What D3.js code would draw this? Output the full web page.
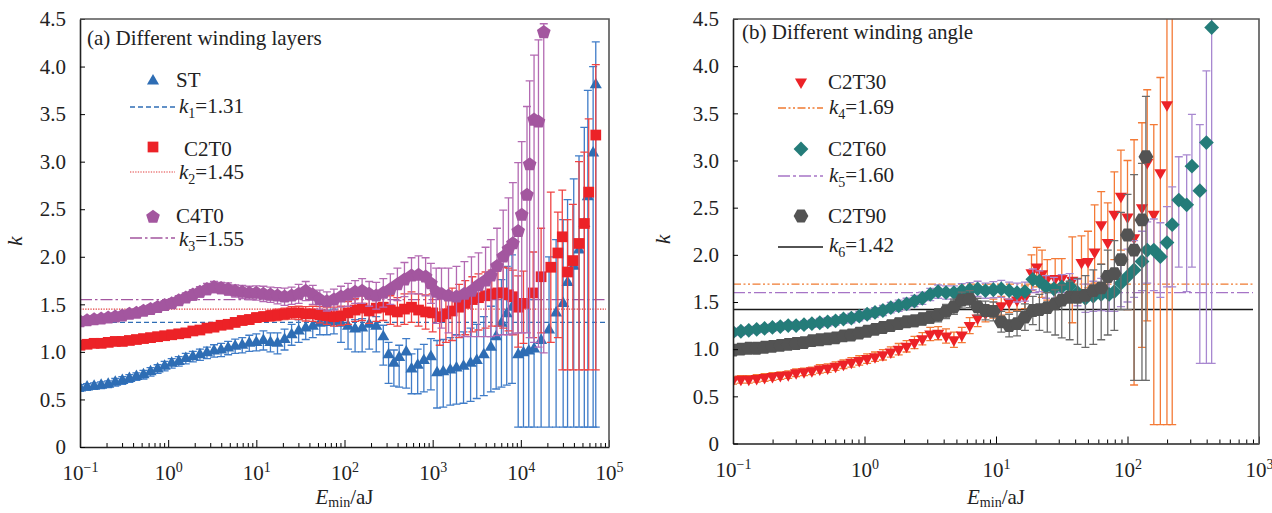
<!DOCTYPE html>
<html>
<head>
<meta charset="utf-8">
<script src="https://d3js.org/d3.v7.min.js"></script>
<style>
    body { margin: 0; background: #fff; }
    svg { font-family: "Liberation Serif", Tinos, "Times New Roman", serif; }
</style>
</head>
<body>
<svg width="1272" height="513"></svg>

<script>
// rows: [log10(Emin/aJ), k, err]  or  [log10(Emin/aJ), k, lower end, upper end]

// ---- panel (a): different winding layers ----
var stRows = [
 [-1.00,0.62,0.035],[-0.92,0.63,0.035],[-0.84,0.64,0.035],[-0.76,0.65,0.035],[-0.68,0.66,0.035],
 [-0.60,0.68,0.04],[-0.52,0.70,0.04],[-0.44,0.72,0.04],[-0.36,0.74,0.04],[-0.28,0.76,0.045],
 [-0.20,0.79,0.045],[-0.12,0.82,0.045],[-0.04,0.85,0.05],[0.04,0.88,0.05],[0.12,0.90,0.05],
 [0.20,0.93,0.055],[0.28,0.95,0.055],[0.36,0.97,0.06],[0.44,0.99,0.06],[0.52,1.01,0.065],
 [0.60,1.02,0.07],[0.68,1.04,0.07],[0.76,1.06,0.075],[0.84,1.07,0.08],[0.92,1.09,0.085],
 [1.00,1.10,0.09],[1.08,1.12,0.1],[1.16,1.10,0.1],[1.24,1.09,0.11],[1.32,1.13,0.11],
 [1.40,1.18,0.11],[1.48,1.22,0.12],[1.56,1.25,0.12],[1.64,1.27,0.12],[1.72,1.30,0.12],
 [1.80,1.31,0.13],[1.88,1.32,0.13],
 [1.96,1.30,1.10,1.41],[2.04,1.27,1.03,1.37],[2.12,1.24,1.00,1.34],[2.20,1.25,1.00,1.35],
 [2.28,1.29,1.03,1.39],[2.36,1.27,1.00,1.37],
 [2.44,1.16,0.86,1.28],[2.50,0.97,0.67,1.10],[2.56,0.88,0.64,1.02],[2.62,0.94,0.63,1.07],
 [2.70,1.00,0.62,1.14],[2.76,0.82,0.56,0.98],[2.83,0.86,0.56,1.03],[2.90,0.91,0.58,1.08],
 [2.98,0.95,0.60,1.14],
 [3.05,0.78,0.41,1.12],[3.12,0.79,0.42,1.13],[3.20,0.81,0.44,1.15],[3.27,0.83,0.45,1.18],
 [3.35,0.85,0.46,1.21],[3.43,0.88,0.48,1.25],[3.50,0.91,0.51,1.29],[3.58,0.97,0.54,1.37],
 [3.66,1.05,0.58,1.48],[3.72,1.16,0.61,1.62],[3.78,1.30,0.63,1.76],[3.84,1.40,0.65,1.90],
 [3.90,1.47,0.67,2.02],
 [3.97,0.97,0.21,1.50],[4.03,0.99,0.21,1.52],[4.09,1.01,0.21,1.55],[4.15,1.03,0.21,1.60],
 [4.23,1.12,0.21,1.78],[4.32,1.23,0.21,2.00],[4.40,1.41,0.21,2.18],[4.48,1.51,0.21,2.39],
 [4.53,1.73,0.21,2.60],[4.60,1.90,0.21,2.82],[4.66,2.07,0.21,3.06],[4.72,2.35,0.21,3.36],
 [4.76,2.63,0.21,3.75],[4.82,3.09,0.21,4.00],[4.85,3.81,0.21,4.26]
];

var c2t0Rows = [
 [-1.00,1.07,0.03],[-0.92,1.08,0.03],[-0.84,1.09,0.03],[-0.76,1.09,0.03],[-0.68,1.10,0.03],
 [-0.60,1.11,0.03],[-0.52,1.11,0.03],[-0.44,1.12,0.03],[-0.36,1.13,0.03],[-0.28,1.14,0.03],
 [-0.20,1.15,0.03],[-0.12,1.16,0.03],[-0.04,1.17,0.03],[0.04,1.18,0.03],[0.12,1.19,0.035],
 [0.20,1.20,0.035],[0.28,1.22,0.035],[0.36,1.23,0.035],[0.44,1.25,0.04],[0.52,1.26,0.04],
 [0.60,1.28,0.04],[0.68,1.29,0.04],[0.76,1.31,0.045],[0.84,1.33,0.045],[0.92,1.34,0.05],
 [1.00,1.36,0.05],[1.08,1.37,0.05],[1.16,1.38,0.055],[1.24,1.39,0.06],[1.32,1.40,0.06],
 [1.40,1.41,0.065],[1.48,1.41,0.07],[1.56,1.40,0.075],[1.64,1.40,0.08],[1.72,1.39,0.085],
 [1.80,1.38,0.09],[1.88,1.37,0.1],[1.96,1.38,0.1],
 [2.04,1.41,0.12],[2.12,1.44,0.12],[2.20,1.46,0.13],[2.28,1.43,0.13],[2.36,1.46,0.14],
 [2.44,1.47,0.14],[2.52,1.44,0.15],[2.60,1.42,0.15],[2.68,1.45,0.16],[2.76,1.47,0.16],
 [2.84,1.44,0.17],[2.92,1.42,0.18],[3.00,1.41,0.2],
 [3.08,1.37,1.07,1.60],[3.15,1.40,1.10,1.63],[3.22,1.43,1.12,1.67],[3.30,1.47,1.15,1.71],
 [3.37,1.51,1.18,1.75],[3.45,1.55,1.21,1.79],[3.52,1.57,1.23,1.82],[3.60,1.59,1.25,1.84],
 [3.67,1.61,1.27,1.86],[3.74,1.62,1.27,1.88],[3.80,1.62,1.25,1.89],[3.86,1.60,1.22,1.88],
 [3.91,1.58,1.18,1.86],
 [3.97,1.47,1.05,1.80],[4.03,1.51,1.09,1.85],[4.14,1.62,1.15,2.05],[4.23,1.79,1.20,2.30],
 [4.34,1.89,1.10,2.68],[4.42,2.04,1.15,2.47],[4.47,2.21,0.81,2.70],[4.53,1.84,0.81,2.39],
 [4.59,1.96,0.81,2.55],[4.66,2.14,0.81,3.00],[4.72,2.35,0.81,3.10],[4.77,2.68,0.81,3.45],
 [4.85,3.28,0.81,4.02]
];

var c4t0Rows = [
 [-1.00,1.32,0.035],[-0.92,1.33,0.035],[-0.84,1.34,0.035],[-0.76,1.35,0.035],[-0.68,1.36,0.04],
 [-0.60,1.37,0.04],[-0.52,1.38,0.04],[-0.44,1.40,0.04],[-0.36,1.41,0.04],[-0.28,1.43,0.045],
 [-0.20,1.45,0.045],[-0.12,1.47,0.045],[-0.04,1.49,0.05],[0.04,1.51,0.05],[0.12,1.54,0.05],
 [0.20,1.57,0.05],[0.28,1.60,0.055],[0.36,1.63,0.055],[0.44,1.66,0.06],[0.52,1.68,0.06],
 [0.60,1.67,0.06],[0.68,1.66,0.065],[0.76,1.64,0.065],[0.84,1.63,0.07],[0.92,1.62,0.07],
 [1.00,1.62,0.075],[1.08,1.61,0.08],[1.16,1.60,0.08],[1.24,1.59,0.085],[1.32,1.58,0.09],
 [1.40,1.59,0.09],[1.48,1.61,0.1],[1.56,1.64,0.1],[1.64,1.60,0.1],[1.72,1.55,0.1],
 [1.80,1.53,0.1],[1.88,1.55,0.11],[1.96,1.58,0.11],[2.04,1.60,0.12],[2.12,1.63,0.12],
 [2.20,1.64,0.13],[2.28,1.61,0.13],[2.36,1.59,0.14],[2.44,1.62,0.15],[2.52,1.66,0.16],
 [2.60,1.71,0.17],[2.68,1.76,0.18],[2.76,1.80,0.19],[2.84,1.81,0.2],[2.92,1.79,0.2],
 [2.98,1.72,0.21],
 [3.04,1.63,1.30,1.88],[3.10,1.61,1.25,1.88],[3.18,1.59,1.20,1.88],[3.27,1.58,1.17,1.90],
 [3.36,1.61,1.16,1.95],[3.44,1.64,1.16,2.00],[3.52,1.70,1.16,2.04],[3.60,1.75,1.16,2.10],
 [3.66,1.80,1.16,2.18],[3.73,1.90,1.17,2.30],[3.80,2.00,1.18,2.49],[3.86,2.08,1.18,2.62],
 [3.91,2.14,1.19,2.78],[3.97,2.27,1.20,2.99],[4.01,2.44,1.20,3.21],[4.07,2.65,1.20,3.58],
 [4.10,2.97,1.15,3.85],[4.15,3.44,1.10,4.12],[4.20,3.42,1.05,4.28],[4.26,4.36,0.99,4.45]
];

// ---- panel (b): different winding angle ----
var c2t30Rows = [
 [-1.00,0.67,0.04],[-0.94,0.68,0.04],[-0.88,0.68,0.04],[-0.82,0.69,0.04],[-0.76,0.70,0.04],
 [-0.70,0.71,0.04],[-0.64,0.72,0.04],[-0.58,0.73,0.04],[-0.52,0.75,0.04],[-0.46,0.76,0.04],
 [-0.40,0.77,0.04],[-0.34,0.79,0.045],[-0.28,0.80,0.045],[-0.22,0.82,0.045],[-0.16,0.84,0.045],
 [-0.10,0.86,0.05],[-0.04,0.88,0.05],[0.02,0.90,0.05],[0.08,0.92,0.05],[0.14,0.94,0.055],
 [0.20,0.97,0.055],[0.26,1.00,0.06],[0.32,1.03,0.06],[0.38,1.07,0.065],[0.44,1.11,0.065],
 [0.50,1.16,0.07],[0.56,1.17,0.07],[0.62,1.14,0.075],[0.68,1.10,0.08],[0.74,1.15,0.08],
 [0.80,1.25,0.085],[0.86,1.33,0.09],[0.92,1.38,0.09],[0.98,1.43,0.1],[1.04,1.46,0.1],
 [1.10,1.50,0.11],[1.16,1.52,0.11],[1.22,1.55,0.12],
 [1.27,1.81,1.62,2.00],[1.31,1.87,1.66,2.08],[1.35,1.80,1.55,2.05],[1.39,1.75,1.52,1.95],
 [1.45,1.75,1.50,1.96],[1.50,1.75,1.48,1.96],[1.58,1.73,1.28,2.19],[1.65,1.92,1.62,2.20],
 [1.70,1.93,1.65,2.25],[1.75,2.03,1.70,2.53],[1.80,2.32,1.90,2.67],[1.85,2.13,1.80,2.55],
 [1.90,2.43,1.95,2.88],[1.95,2.62,2.05,3.11],[2.00,2.40,1.42,3.00],[2.05,2.18,0.62,3.22],
 [2.11,2.50,1.02,3.40],[2.15,2.98,1.30,3.75],[2.20,2.43,0.20,3.38],[2.25,2.87,0.20,3.88],
 [2.30,3.59,0.20,5.00],[2.34,4.70,0.20,5.00]
];

var c2t60Rows = [
 [-1.00,1.18,0.04],[-0.94,1.19,0.04],[-0.88,1.20,0.04],[-0.82,1.21,0.04],[-0.76,1.22,0.04],
 [-0.70,1.23,0.04],[-0.64,1.24,0.04],[-0.58,1.25,0.04],[-0.52,1.25,0.04],[-0.46,1.26,0.04],
 [-0.40,1.27,0.04],[-0.34,1.28,0.045],[-0.28,1.29,0.045],[-0.22,1.30,0.045],[-0.16,1.32,0.045],
 [-0.10,1.33,0.05],[-0.04,1.35,0.05],[0.02,1.37,0.05],[0.08,1.39,0.05],[0.14,1.41,0.055],
 [0.20,1.44,0.055],[0.26,1.46,0.06],[0.32,1.48,0.06],[0.38,1.51,0.06],[0.44,1.54,0.065],
 [0.50,1.58,0.065],[0.56,1.61,0.07],[0.62,1.60,0.07],[0.68,1.60,0.07],[0.74,1.62,0.075],
 [0.80,1.63,0.075],[0.86,1.64,0.08],[0.92,1.62,0.08],[0.98,1.63,0.085],[1.04,1.64,0.09],
 [1.10,1.62,0.09],[1.16,1.60,0.1],[1.22,1.61,0.1],[1.28,1.74,0.11],[1.33,1.72,0.11],
 [1.38,1.66,0.12],[1.44,1.64,0.12],[1.50,1.66,0.13],[1.56,1.67,0.13],[1.62,1.60,0.14],
 [1.68,1.54,0.15],[1.74,1.56,0.16],[1.80,1.58,0.17],[1.86,1.58,0.18],
 [1.90,1.61,1.40,1.85],[1.95,1.70,1.45,1.98],[2.00,1.77,1.50,2.06],[2.05,1.84,1.55,2.15],
 [2.11,1.93,1.62,2.25],[2.15,2.05,1.70,2.35],[2.20,2.05,1.62,2.38],[2.25,1.98,1.55,2.34],
 [2.30,2.13,1.66,2.51],[2.34,2.32,1.66,2.72],[2.39,2.58,1.87,3.04],[2.45,2.53,1.61,3.06],
 [2.49,2.94,1.87,3.49],[2.55,2.68,0.85,3.38],[2.60,3.19,0.85,3.95],[2.64,4.41,0.85,5.00]
];

var c2t90Rows = [
 [-1.00,0.99,0.04],[-0.94,1.00,0.04],[-0.88,1.01,0.04],[-0.82,1.01,0.04],[-0.76,1.02,0.04],
 [-0.70,1.03,0.04],[-0.64,1.04,0.04],[-0.58,1.05,0.04],[-0.52,1.06,0.04],[-0.46,1.07,0.04],
 [-0.40,1.09,0.04],[-0.34,1.10,0.04],[-0.28,1.11,0.045],[-0.22,1.12,0.045],[-0.16,1.14,0.045],
 [-0.10,1.15,0.045],[-0.04,1.17,0.05],[0.02,1.19,0.05],[0.08,1.21,0.05],[0.14,1.23,0.05],
 [0.20,1.25,0.055],[0.26,1.27,0.055],[0.32,1.29,0.06],[0.38,1.30,0.06],[0.44,1.32,0.065],
 [0.50,1.34,0.065],[0.56,1.36,0.07],[0.62,1.40,0.075],[0.68,1.45,0.08],[0.74,1.52,0.085],
 [0.80,1.53,0.09],[0.86,1.45,0.09],[0.92,1.41,0.1],[0.98,1.40,0.1],[1.04,1.29,0.11],
 [1.10,1.25,0.12],[1.16,1.27,0.13],[1.22,1.34,0.14],[1.28,1.41,0.15],
 [1.33,1.42,1.20,1.58],[1.39,1.44,1.18,1.60],[1.45,1.48,1.15,1.63],[1.50,1.52,1.12,1.68],
 [1.56,1.55,1.10,1.72],[1.62,1.55,1.05,1.75],[1.68,1.57,1.02,1.78],[1.74,1.62,1.05,1.84],
 [1.80,1.65,1.10,1.90],[1.85,1.77,1.15,2.05],[1.90,1.80,1.20,2.15],[1.95,1.95,1.42,2.45],
 [2.00,2.21,1.42,2.64],[2.05,2.05,0.67,2.85],[2.11,2.37,0.67,2.97],[2.14,3.04,0.67,3.68]
];

var seriesNamesA = ["ST", "C2T0", "C4T0"];
var fitSubsA = ["1", "2", "3"];
var fitValuesA = [1.31, 1.45, 1.55];
var seriesNamesB = ["C2T30", "C2T60", "C2T90"];
var fitSubsB = ["4", "5", "6"];
var fitValuesB = [1.69, 1.60, 1.42];

var xMajorA = [-1, 0, 1, 2, 3, 4, 5];
var xMajorB = [-1, 0, 1, 2, 3];
var yTicks = [0, 0.5, 1.0, 1.5, 2.0, 2.5, 3.0, 3.5, 4.0, 4.5];
var titleA = "(a) Different winding layers";
var titleB = "(b) Different winding angle";

// ---- drawing ----
var svg = d3.select("svg");
var FONT = '"Liberation Serif", Tinos, "Times New Roman", serif';
svg.attr("font-family", FONT);

function polygon(n, r, rot) {
    var p = [];
    for (var i = 0; i < n; i++) {
        var a = rot + i * 2 * Math.PI / n;
        p.push((r * Math.cos(a)).toFixed(2) + "," + (r * Math.sin(a)).toFixed(2));
    }
    return "M" + p.join("L") + "Z";
}
var shapes = {
    triUp: polygon(3, 7, -Math.PI / 2),
    square: polygon(4, 7.6, Math.PI / 4),
    pentagon: polygon(5, 7.2, -Math.PI / 2),
    triDown: polygon(3, 7, Math.PI / 2),
    diamond: polygon(4, 7.4, 0),
    hexagon: polygon(6, 7.4, 0)
};

var panels = [
    {
        id: "a", left: 80, right: 609, top: 19, bottom: 447, xmax: 5, fitEnd: 606,
        rows: [stRows, c2t0Rows, c4t0Rows], names: seriesNamesA,
        fitSubs: fitSubsA, fitValues: fitValuesA, majors: xMajorA, title: titleA,
        titleX: 87, titleY: 45, ylabX: 22, tickLabY: 33,
        styles: [
            {shape: "triUp", fill: "#2e6db4", bar: "#3f7cc8"},
            {shape: "square", fill: "#ec2227", bar: "#ef4444"},
            {shape: "pentagon", fill: "#a3569f", bar: "#b36ab2"}
        ],
        fits: [
            {color: "#2f6db5", dash: "5,3", w: 1.3},
            {color: "#e23a3a", dash: "1.3,1.3", w: 1.2},
            {color: "#a3569f", dash: "12,3,2.5,3", w: 1.3}
        ],
        legend: {mx: 153, lx1: 130, lx2: 175, nameX: [176, 184, 176], kx: 179,
                 markY: [81, 147, 217], nameY: [87, 156, 223], lineY: [107, 172, 238], kY: [113, 179, 246]}
    },
    {
        id: "b", left: 733, right: 1259, top: 19, bottom: 443.5, xmax: 3, fitEnd: 1253,
        rows: [c2t30Rows, c2t60Rows, c2t90Rows], names: seriesNamesB,
        fitSubs: fitSubsB, fitValues: fitValuesB, majors: xMajorB, title: titleB,
        titleX: 742, titleY: 39, ylabX: 670, tickLabY: 33,
        styles: [
            {shape: "triDown", fill: "#ec2227", bar: "#f47a36"},
            {shape: "diamond", fill: "#247c79", bar: "#a888d0"},
            {shape: "hexagon", fill: "#535353", bar: "#6b6b6b"}
        ],
        fits: [
            {color: "#f07a30", dash: "8,2.5,2,2.5,2,2.5", w: 1.3},
            {color: "#a674c6", dash: "12,3,3,3", w: 1.3},
            {color: "#1a1a1a", dash: null, w: 1.4}
        ],
        legend: {mx: 801, lx1: 778, lx2: 823, nameX: [828, 828, 828], kx: 829,
                 markY: [82, 149, 216], nameY: [89, 156, 223], lineY: [108, 176, 247], kY: [114, 182, 252]}
    }
];

panels.forEach(function (p) {
    var x = d3.scaleLog().domain([0.1, Math.pow(10, p.xmax)]).range([p.left, p.right]),
        y = d3.scaleLinear().domain([0, 4.5]).range([p.bottom, p.top]);
    var g = svg.append("g");

    g.append("clipPath").attr("id", "clip-" + p.id)
        .append("rect")
        .attr("x", p.left).attr("y", p.top)
        .attr("width", p.right - p.left).attr("height", p.bottom - p.top);

    // fitted constant lines
    p.fitValues.forEach(function (v, i) {
        var f = p.fits[i];
        g.append("line")
            .attr("x1", x(0.1)).attr("x2", p.fitEnd)
            .attr("y1", y(v)).attr("y2", y(v))
            .attr("stroke", f.color).attr("stroke-width", f.w)
            .attr("stroke-dasharray", f.dash);
    });

    // series: error bars then markers
    p.rows.forEach(function (rows, si) {
        var st = p.styles[si];
        var data = rows.map(function (r) {
            return {
                x: Math.pow(10, r[0]), k: r[1],
                lo: r.length > 3 ? r[2] : r[1] - r[2],
                hi: r.length > 3 ? r[3] : r[1] + r[2]
            };
        });
        var sg = g.append("g").attr("clip-path", "url(#clip-" + p.id + ")");
        sg.selectAll(".bar").data(data).enter().append("path")
            .attr("class", "bar")
            .attr("fill", "none")
            .attr("stroke", st.bar)
            .attr("stroke-width", 1.3)
            .attr("d", function (d) {
                var cx = x(d.x), a = y(d.hi), b = y(d.lo);
                return "M" + (cx - 4) + "," + a + "H" + (cx + 4) +
                       "M" + cx + "," + a + "V" + b +
                       "M" + (cx - 4) + "," + b + "H" + (cx + 4);
            });
        sg.selectAll(".mark").data(data).enter().append("path")
            .attr("class", "mark")
            .attr("d", shapes[st.shape])
            .attr("fill", st.fill)
            .attr("transform", function (d) {
                return "translate(" + x(d.x) + "," + y(d.k) + ")";
            });
    });

    // x axis: minor then major ticks
    var minor = x.ticks().filter(function (v) {
        return Math.abs(Math.log10(v) - Math.round(Math.log10(v))) > 1e-6;
    });
    g.append("g")
        .attr("transform", "translate(0," + p.bottom + ")")
        .call(d3.axisBottom(x).tickValues(minor).tickSize(-4).tickSizeOuter(0).tickFormat(""))
        .call(function (s) { s.select(".domain").remove(); });
    var xa = g.append("g")
        .attr("transform", "translate(0," + p.bottom + ")")
        .call(d3.axisBottom(x).tickValues(p.majors.map(function (e) { return Math.pow(10, e); }))
            .tickSize(-7).tickSizeOuter(0).tickFormat(""));
    xa.select(".domain").attr("stroke-width", 1.6).attr("stroke", "#222");
    xa.selectAll(".tick text").each(function (d) {
        var e = Math.round(Math.log10(d));
        var t = d3.select(this)
            .attr("y", p.tickLabY).attr("dy", null)
            .attr("font-size", 21).attr("font-family", FONT).attr("fill", "#222");
        t.append("tspan").text("10");
        t.append("tspan").attr("dy", -8).attr("font-size", 14).text(e < 0 ? "\u2212" + (-e) : e);
    });

    // y axis
    var ya = g.append("g")
        .attr("transform", "translate(" + p.left + ",0)")
        .call(d3.axisLeft(y).tickValues(yTicks).tickSize(-5).tickSizeOuter(0).tickPadding(14)
            .tickFormat(function (d) { return d === 0 ? "0" : d3.format(".1f")(d); }));
    ya.select(".domain").attr("stroke-width", 1.6).attr("stroke", "#222");
    ya.selectAll(".tick text").attr("font-size", 21).attr("font-family", FONT).attr("fill", "#222");

    // frame top/right
    g.append("path")
        .attr("d", "M" + p.left + "," + p.top + "H" + p.right + "V" + p.bottom)
        .attr("fill", "none").attr("stroke", "#555").attr("stroke-width", 1.6);

    // labels
    g.append("text")
        .attr("transform", "translate(" + p.ylabX + "," + ((p.top + p.bottom) / 2 + 8) + ") rotate(-90)")
        .attr("text-anchor", "middle").attr("font-style", "italic").attr("font-size", 21)
        .attr("fill", "#222").text("k");
    var xl = g.append("text")
        .attr("x", (p.left + p.right) / 2).attr("y", 504)
        .attr("text-anchor", "middle").attr("font-size", 21).attr("fill", "#222");
    xl.append("tspan").attr("font-style", "italic").text("E");
    xl.append("tspan").attr("font-size", 14).attr("dy", 3).text("min");
    xl.append("tspan").attr("dy", -3).text("/aJ");

    g.append("text")
        .attr("x", p.titleX).attr("y", p.titleY)
        .attr("font-size", 21).attr("fill", "#222").text(p.title);

    // legend
    var L = p.legend;
    p.names.forEach(function (name, i) {
        var st = p.styles[i], f = p.fits[i];
        g.append("path").attr("d", shapes[st.shape]).attr("fill", st.fill)
            .attr("transform", "translate(" + L.mx + "," + L.markY[i] + ")");
        g.append("text").attr("x", L.nameX[i]).attr("y", L.nameY[i])
            .attr("font-size", 21).attr("fill", "#222").text(name);
        g.append("line")
            .attr("x1", L.lx1).attr("x2", L.lx2).attr("y1", L.lineY[i]).attr("y2", L.lineY[i])
            .attr("stroke", f.color).attr("stroke-width", f.w).attr("stroke-dasharray", f.dash);
        var kt = g.append("text").attr("x", L.kx).attr("y", L.kY[i])
            .attr("font-size", 21).attr("fill", "#222");
        kt.append("tspan").attr("font-style", "italic").text("k");
        kt.append("tspan").attr("font-size", 14).attr("dy", 5).text(p.fitSubs[i]);
        kt.append("tspan").attr("dy", -5).text("=" + d3.format(".2f")(p.fitValues[i]));
    });
});
</script>
</body>
</html>
